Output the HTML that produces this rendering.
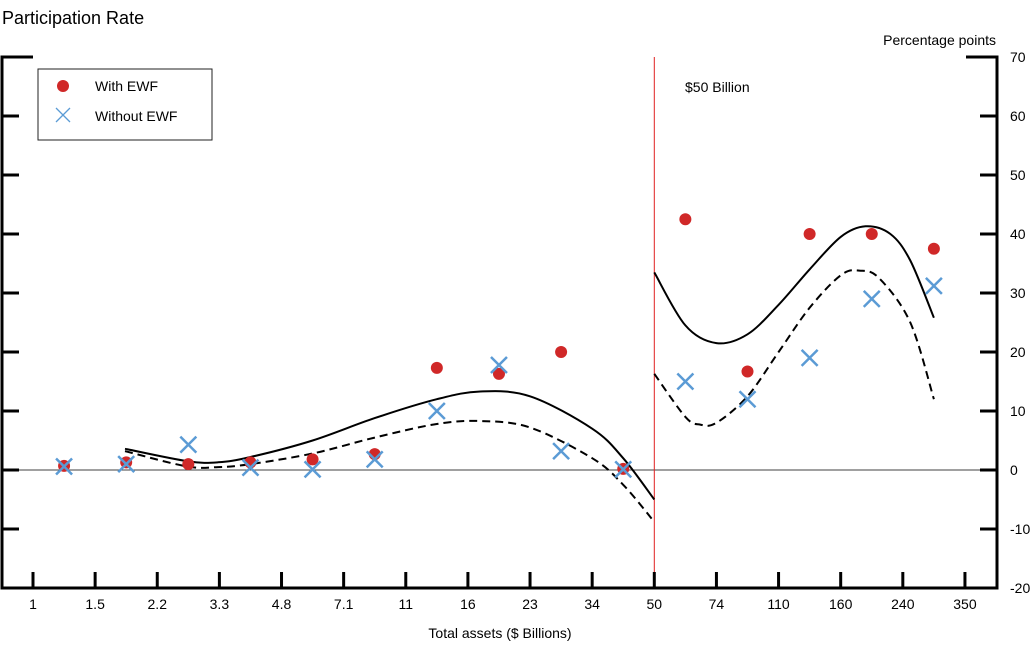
<!DOCTYPE html>
<html><head><meta charset="utf-8"><style>
body{margin:0;background:#fff;}
svg text{font-family:"Liberation Sans",sans-serif;fill:#000;}
</style></head><body>
<svg id="chart" width="1031" height="643" xmlns="http://www.w3.org/2000/svg">
<text x="2" y="24" font-size="18">Participation Rate</text>
<text x="996" y="45" font-size="14" text-anchor="end">Percentage points</text>
<text x="500" y="638" font-size="14" text-anchor="middle">Total assets ($ Billions)</text>
<g id="layer"></g>
<g>
<rect x="38" y="69" width="174" height="71" fill="#fff" stroke="#222" stroke-width="1"/>
<circle cx="63" cy="86" r="6" fill="#d02828"/>
<text x="95" y="91" font-size="14">With EWF</text>
<path d="M56,108 L70,122 M70,108 L56,122" stroke="#5b9bd5" stroke-width="1.3"/>
<text x="95" y="121" font-size="14">Without EWF</text>
</g>
<text x="685" y="92" font-size="14">$50 Billion</text>
</svg>
<script>
const xTicks=["1","1.5","2.2","3.3","4.8","7.1","11","16","23","34","50","74","110","160","240","350"];
const yTicks=[-20,-10,0,10,20,30,40,50,60,70];
const ptPos=[0.5,1.5,2.5,3.5,4.5,5.5,6.5,7.5,8.5,9.5,10.5,11.5,12.5,13.5,14.5];
const withEWF=[0.7,1.3,1.0,1.3,1.8,2.7,17.3,16.3,20.0,0.2,42.5,16.7,40.0,40.0,37.5];
const withoutEWF=[0.6,1.0,4.3,0.4,0.1,1.8,10.0,17.8,3.2,0.1,15.0,12.0,19.0,29.0,31.2];
const solidLeftX=[1.48,2.48,2.98,3.5,4.5,5.5,6.5,7.2,8.0,9.0,9.5,10.0];
const solidLeftY=[3.6,1.5,1.3,2.2,5.0,8.8,12.0,13.3,12.5,7.0,2.0,-5.0];
const dashLeftX=[1.48,2.48,2.98,3.5,4.5,5.5,6.5,7.2,8.0,9.0,9.5,10.0];
const dashLeftY=[3.2,0.6,0.5,1.0,2.8,5.5,7.8,8.3,7.2,2.0,-2.5,-8.8];
const solidRightX=[10.0,10.5,11.0,11.5,12.0,12.5,13.0,13.4,13.8,14.12,14.5];
const solidRightY=[33.5,24.5,21.5,23.0,28.0,34.0,39.5,41.3,40.0,35.5,25.8];
const dashRightX=[10.0,10.5,10.74,11.0,11.5,12.0,12.5,13.0,13.3,13.62,14.12,14.5];
const dashRightY=[16.3,9.0,7.7,8.0,12.5,20.0,27.5,33.0,33.8,32.5,25.0,12.0];
const threshold=10;

const X=i=>33+i*62.13;
const Y=v=>470-v*5.9;
const L=document.getElementById('layer');
const NS="http://www.w3.org/2000/svg";
function mk(t,a){const e=document.createElementNS(NS,t);for(const k in a)e.setAttribute(k,a[k]);L.appendChild(e);return e;}
let e=mk('line',{x1:2,x2:997,y1:Y(0),y2:Y(0),stroke:'#000','stroke-width':0.8});


e=mk('line',{x1:X(threshold),x2:X(threshold),y1:57,y2:588,stroke:'#e02020','stroke-width':1});


e=mk('path',{d:'M33,57 L2,57 L2,588 L997,588 L997,57 L966,57',fill:'none',stroke:'#000','stroke-width':3});


yTicks.forEach(v=>{
  if(v!==70&&v!==-20){
  let t=mk('path',{d:`M2,${Y(v)} L19,${Y(v)} M997,${Y(v)} L980,${Y(v)}`,stroke:'#000','stroke-width':3});
  
  }
  let l=mk('text',{x:1010,y:Y(v)+5,'font-size':14});
  l.textContent=v;
  
  
});
xTicks.forEach((s,i)=>{
  let t=mk('line',{x1:X(i),x2:X(i),y1:588,y2:572,stroke:'#000','stroke-width':3});
  
  
  let l=mk('text',{x:X(i),y:609,'font-size':14,'text-anchor':'middle'});
  l.textContent=s;
  
  
});
function curve(xs,ys,dash,name){
  const P=xs.map((x,i)=>[X(x),Y(ys[i])]);
  let d='M'+P[0][0].toFixed(1)+','+P[0][1].toFixed(1);
  for(let i=0;i<P.length-1;i++){
    const p0=P[Math.max(0,i-1)],p1=P[i],p2=P[i+1],p3=P[Math.min(P.length-1,i+2)];
    const c1=[p1[0]+(p2[0]-p0[0])/6,p1[1]+(p2[1]-p0[1])/6];
    const c2=[p2[0]-(p3[0]-p1[0])/6,p2[1]-(p3[1]-p1[1])/6];
    d+=` C${c1[0].toFixed(1)},${c1[1].toFixed(1)} ${c2[0].toFixed(1)},${c2[1].toFixed(1)} ${p2[0].toFixed(1)},${p2[1].toFixed(1)}`;
  }
  let p=mk('path',{d:d,fill:'none',stroke:'#000','stroke-width':2});
  if(dash)p.setAttribute('stroke-dasharray','8,5');
  
  
}
curve(solidLeftX,solidLeftY,false,'fit-with-ewf-left');
curve(dashLeftX,dashLeftY,true,'fit-without-ewf-left');
curve(solidRightX,solidRightY,false,'fit-with-ewf-right');
curve(dashRightX,dashRightY,true,'fit-without-ewf-right');
withEWF.forEach((v,i)=>{
  let c=mk('circle',{cx:X(ptPos[i]),cy:Y(v),r:6,fill:'#d02828'});
  
  
});
withoutEWF.forEach((v,i)=>{
  const x=X(ptPos[i]),y=Y(v);
  let c=mk('path',{d:`M${x-8},${y-8} L${x+8},${y+8} M${x+8},${y-8} L${x-8},${y+8}`,stroke:'#5b9bd5','stroke-width':2.5});
  
  
});
</script>
</body></html>
